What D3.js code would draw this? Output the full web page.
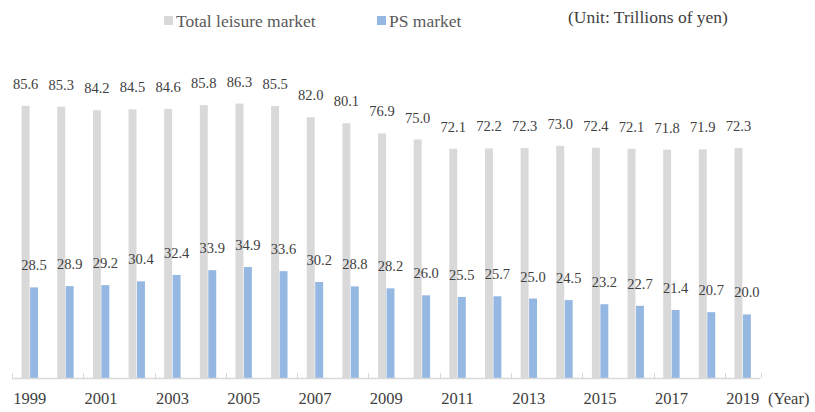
<!DOCTYPE html>
<html>
<head>
<meta charset="utf-8">
<script src="https://cdn.jsdelivr.net/npm/d3@7"></script>
<style>
  html, body { margin: 0; padding: 0; background: #ffffff; }
  svg { display: block; font-family: "Liberation Serif", "Times New Roman", serif; }
</style>
</head>
<body>
<svg id="chart" width="815" height="412"></svg>
<script>
// Leisure market vs PS market, trillions of yen
const years = ["1999","2000","2001","2002","2003","2004","2005","2006","2007","2008","2009",
               "2010","2011","2012","2013","2014","2015","2016","2017","2018","2019"];
const totalLeisure = [85.6,85.3,84.2,84.5,84.6,85.8,86.3,85.5,82.0,80.1,76.9,
                      75.0,72.1,72.2,72.3,73.0,72.4,72.1,71.8,71.9,72.3];
const psMarket = [28.5,28.9,29.2,30.4,32.4,33.9,34.9,33.6,30.2,28.8,28.2,
                  26.0,25.5,25.7,25.0,24.5,23.2,22.7,21.4,20.7,20.0];
const tickYears = ["1999","2001","2003","2005","2007","2009","2011","2013","2015","2017","2019"];
const seriesNames = ["Total leisure market", "PS market"];
const colors = ["#d9d9d9", "#95b8e3"];

const svg = d3.select("#chart");
const left = 12, right = 760.5, baseY = 378, topY = 60;

const x = d3.scaleBand().domain(years).range([left, right]).paddingInner(0).paddingOuter(0);
const inner = d3.scaleBand().domain([0, 1]).range([x.bandwidth() * 0.27, x.bandwidth() * 0.73]).paddingInner(0.06);
const y = d3.scaleLinear().domain([0, 100]).range([baseY, topY]);

const data = years.map((yr, i) => ({ year: yr, values: [totalLeisure[i], psMarket[i]] }));

const groups = svg.append("g").selectAll("g")
  .data(data).join("g")
  .attr("transform", d => `translate(${x(d.year)},0)`);

groups.selectAll("rect")
  .data(d => d.values.map((v, k) => ({ v, k })))
  .join("rect")
  .attr("x", d => inner(d.k))
  .attr("y", d => y(d.v))
  .attr("width", inner.bandwidth())
  .attr("height", d => baseY - y(d.v))
  .attr("fill", d => colors[d.k]);

groups.selectAll("text")
  .data(d => d.values.map((v, k) => ({ v, k })))
  .join("text")
  .attr("x", d => inner(d.k) + inner.bandwidth() / 2)
  .attr("y", d => y(d.v) - 17)
  .attr("text-anchor", "middle")
  .attr("font-size", 14.5)
  .attr("fill", "#404040")
  .text(d => d.v.toFixed(1));

// Category axis: ticks on every second category boundary
const axisG = svg.append("g");
axisG.append("line")
  .attr("x1", left).attr("x2", right)
  .attr("y1", baseY + 0.5).attr("y2", baseY + 0.5)
  .attr("stroke", "#d9d9d9").attr("stroke-width", 1.5);

const boundaries = years.filter((d, i) => i % 2 === 0).map(d => x(d)).concat([right]);
axisG.selectAll("line.tick")
  .data(boundaries).join("line")
  .attr("class", "tick")
  .attr("x1", d => Math.round(d) + 0.5).attr("x2", d => Math.round(d) + 0.5)
  .attr("y1", baseY).attr("y2", baseY - 5)
  .attr("stroke", "#d9d9d9").attr("stroke-width", 1);

axisG.selectAll("text.lbl")
  .data(tickYears).join("text")
  .attr("class", "lbl")
  .attr("x", d => x(d) + x.bandwidth() / 2)
  .attr("y", 403.5)
  .attr("text-anchor", "middle")
  .attr("font-size", 16.5)
  .attr("fill", "#404040")
  .text(d => d);

svg.append("text")
  .attr("x", 768).attr("y", 403.5)
  .attr("font-size", 16.5)
  .attr("fill", "#404040")
  .text("(Year)");

// Legend
const legendX = [164, 377];
const legend = svg.append("g").selectAll("g")
  .data(seriesNames).join("g")
  .attr("transform", (d, i) => `translate(${legendX[i]},16)`);
legend.append("rect")
  .attr("width", 9).attr("height", 9)
  .attr("fill", (d, i) => colors[i]);
legend.append("text")
  .attr("x", 12).attr("y", 10.5)
  .attr("font-size", 17.5)
  .attr("fill", "#595959")
  .text(d => d);

svg.append("text")
  .attr("x", 568).attr("y", 23)
  .attr("font-size", 17.5)
  .attr("fill", "#404040")
  .text("(Unit: Trillions of yen)");
</script>
</body>
</html>
